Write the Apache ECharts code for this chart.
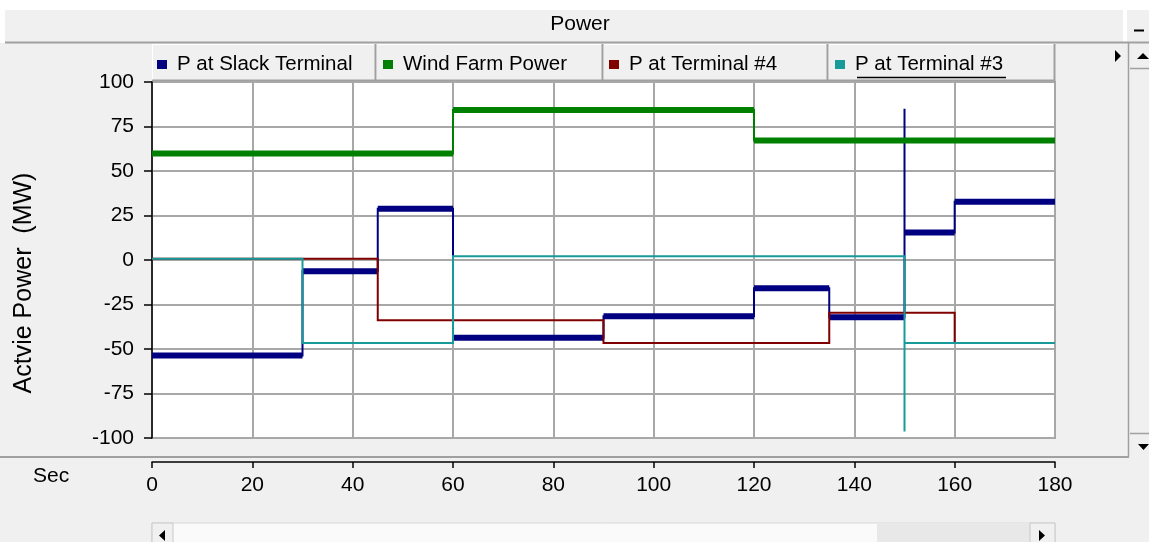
<!DOCTYPE html>
<html><head><meta charset="utf-8">
<script src="https://cdn.jsdelivr.net/npm/echarts@6/dist/echarts.min.js"></script>
<style>html,body{margin:0;padding:0;background:#f0f0f0;overflow:hidden}#c{width:1149px;height:542px;}</style>
</head><body><div id="c"></div>
<script>
// ---------- data ----------
const seriesNames = ['P at Slack Terminal', 'Wind Farm Power', 'P at Terminal #4', 'P at Terminal #3'];
const seriesColors = ['#000080', '#008000', '#800000', '#189a9a'];

const slackTimes = [0, 30, 45, 60, 90, 120, 135, 150, 160, 180];
const slackLevels = [-53.7, -6.3, 28.8, -43.7, -31.6, -15.9, -32.2, 15.5, 32.7];
const slackTransients = [[150, 85]];

const windTimes = [0, 60, 120, 180];
const windLevels = [59.8, 84.3, 67.2];
const windTransients = [[120, 78]];

const term4Times = [0, 45, 90, 135, 160, 180];
const term4Levels = [0.7, -33.9, -46.6, -29.7, -46.6];
const term4Transients = [];

const term3Times = [0, 30, 60, 150, 180];
const term3Levels = [0.7, -46.6, 2.1, -46.6];
const term3Transients = [[150, -96.3]];

const xMin = 0, xMax = 180, xStep = 20;
const yMin = -100, yMax = 100, yStep = 25;
const titleText = 'Power';
const yAxisTitle = 'Actvie Power  (MW)';
const xAxisTitle = 'Sec';

// ---------- helpers ----------
function stepLine(times, levels, transients) {
  const pts = [];
  for (let i = 0; i < levels.length; i++) {
    const t0 = times[i], t1 = times[i + 1], v = levels[i];
    if (i > 0) {
      const tr = transients.find(d => d[0] === t0);
      if (tr) pts.push([t0, tr[1]]);
    }
    pts.push([t0, v]);
    pts.push([t1, v]);
  }
  return pts;
}
function bandLine(times, levels) {
  const pts = [];
  for (let i = 0; i < levels.length; i++) {
    if (i > 0) pts.push('-');
    pts.push([times[i], levels[i]]);
    pts.push([times[i + 1], levels[i]]);
  }
  return pts;
}

const FONT = 'Liberation Sans, Arial, sans-serif';
const GRID = {left: 152, top: 82, width: 903, height: 356};
const legendLefts = [157, 383, 609, 835];
const cellEdges = [152, 376, 603, 828, 1055];

function lineSeries(name, color, data, width, z) {
  return {
    name, type: 'line', data, color, z,
    showSymbol: false, symbol: 'none', animation: false, silent: true,
    lineStyle: {color, width, cap: 'butt', join: 'miter'},
    connectNulls: false
  };
}

const series = [
  lineSeries(seriesNames[0], seriesColors[0], bandLine(slackTimes, slackLevels), 6, 2),
  lineSeries(seriesNames[0], seriesColors[0], stepLine(slackTimes, slackLevels, slackTransients), 2, 2),
  lineSeries(seriesNames[1], seriesColors[1], bandLine(windTimes, windLevels), 6, 2),
  lineSeries(seriesNames[1], seriesColors[1], stepLine(windTimes, windLevels, windTransients), 2, 2),
  lineSeries(seriesNames[2], seriesColors[2], stepLine(term4Times, term4Levels, term4Transients), 2, 3),
  lineSeries(seriesNames[3], seriesColors[3], stepLine(term3Times, term3Levels, term3Transients), 2, 4)
];

// ---------- window chrome (graphics) ----------
const gray = '#a0a0a0';
const chrome = [];
chrome.push({type: 'rect', shape: {x: 0, y: 0, width: 1149, height: 43}, style: {fill: '#ffffff'}, z: -10});
chrome.push({type: 'rect', shape: {x: 5, y: 10, width: 1118, height: 32}, style: {fill: '#f0f0f0'}, z: -9});
chrome.push({type: 'rect', shape: {x: 1127, y: 10, width: 22, height: 32}, style: {fill: '#f0f0f0'}, z: -9});
chrome.push({type: 'line', shape: {x1: 1134, y1: 30.5, x2: 1144, y2: 30.5}, style: {stroke: '#000', lineWidth: 2}});
chrome.push({type: 'line', shape: {x1: 5, y1: 42.5, x2: 1149, y2: 42.5}, style: {stroke: gray, lineWidth: 2}});
// right scrollbar
chrome.push({type: 'line', shape: {x1: 1128.5, y1: 43, x2: 1128.5, y2: 457}, style: {stroke: gray, lineWidth: 1.5}});
chrome.push({type: 'line', shape: {x1: 1130, y1: 68.5, x2: 1149, y2: 68.5}, style: {stroke: gray, lineWidth: 1.5}});
chrome.push({type: 'line', shape: {x1: 1130, y1: 433.5, x2: 1149, y2: 433.5}, style: {stroke: gray, lineWidth: 1.5}});
chrome.push({type: 'polygon', shape: {points: [[1137, 59], [1149, 59], [1143, 53]]}, style: {fill: '#000'}});
chrome.push({type: 'polygon', shape: {points: [[1138, 444], [1149, 444], [1143.5, 450]]}, style: {fill: '#000'}});
chrome.push({type: 'polygon', shape: {points: [[1115, 50], [1115, 62], [1121, 56]]}, style: {fill: '#000'}});
// separator under plot
chrome.push({type: 'line', shape: {x1: 0, y1: 457, x2: 1129, y2: 457}, style: {stroke: gray, lineWidth: 2}});
// bottom scrollbar
chrome.push({type: 'rect', shape: {x: 152, y: 523, width: 903, height: 20}, style: {fill: '#fafafa', stroke: '#d8d8d8', lineWidth: 1}, z: -5});
chrome.push({type: 'rect', shape: {x: 152, y: 523, width: 21, height: 20}, style: {fill: '#f0f0f0', stroke: '#c8c8c8', lineWidth: 1}, z: -4});
chrome.push({type: 'rect', shape: {x: 877, y: 524, width: 153, height: 19}, style: {fill: '#e8e8e8'}, z: -4});
chrome.push({type: 'rect', shape: {x: 1030, y: 523, width: 25, height: 20}, style: {fill: '#f0f0f0', stroke: '#c8c8c8', lineWidth: 1}, z: -4});
chrome.push({type: 'polygon', shape: {points: [[165, 530], [165, 541], [159, 535.5]]}, style: {fill: '#000'}});
chrome.push({type: 'polygon', shape: {points: [[1039, 530], [1039, 541], [1045, 535.5]]}, style: {fill: '#000'}});
// legend cells
for (let i = 0; i < 4; i++) {
  chrome.push({type: 'rect', shape: {x: cellEdges[i] + 0.5, y: 44.5, width: cellEdges[i + 1] - cellEdges[i] - 1, height: 36},
    style: {fill: '#f0f0f0', stroke: '#ffffff', lineWidth: 1}, z: -3});
  chrome.push({type: 'polyline', shape: {points: [[cellEdges[i + 1] - 0.5, 44], [cellEdges[i + 1] - 0.5, 80.5], [cellEdges[i], 80.5]]},
    style: {stroke: gray, lineWidth: 2, fill: null}, z: -2});
}
// underline of focused legend item
chrome.push({type: 'line', shape: {x1: 857, y1: 77.5, x2: 1006, y2: 77.5}, style: {stroke: '#000', lineWidth: 1.5}});
// axis titles
chrome.push({type: 'text', x: 24, y: 283, rotation: Math.PI / 2,
  style: {text: yAxisTitle, fontSize: 25, fontFamily: FONT, fill: '#000', align: 'center', verticalAlign: 'middle'}});
chrome.push({type: 'text', x: 33, y: 476,
  style: {text: xAxisTitle, fontSize: 21, fontFamily: FONT, fill: '#000', align: 'left', verticalAlign: 'middle'}});

const option = {
  animation: false,
  backgroundColor: '#f0f0f0',
  title: {text: titleText, left: 580, top: 14, textAlign: 'center', padding: 0,
    textStyle: {fontSize: 21, fontWeight: 'normal', color: '#000', fontFamily: FONT}},
  legend: seriesNames.map((n, i) => ({
    data: [n], left: legendLefts[i], top: 54, padding: 0, icon: 'rect', itemWidth: 10, itemHeight: 9,
    selectedMode: false,
    textStyle: {fontSize: 20.5, color: '#000', fontFamily: FONT, padding: [0, 0, 0, 5]}
  })),
  grid: Object.assign({show: true, backgroundColor: '#ffffff', borderColor: gray, borderWidth: 2}, GRID),
  xAxis: {
    type: 'value', min: xMin, max: xMax, interval: xStep, offset: 24,
    axisLine: {show: true, onZero: false, lineStyle: {color: '#000', width: 1.5}},
    axisTick: {show: true, length: 6, inside: false, lineStyle: {color: '#000', width: 1.5}},
    axisLabel: {fontSize: 21, color: '#000', fontFamily: FONT, margin: 13},
    splitLine: {show: true, lineStyle: {color: '#a8a8a8', width: 2}}
  },
  yAxis: {
    type: 'value', min: yMin, max: yMax, interval: yStep,
    axisLine: {show: true, onZero: false, lineStyle: {color: '#000', width: 1.5}},
    axisTick: {show: true, length: 8, inside: false, lineStyle: {color: '#000', width: 1.5}},
    axisLabel: {fontSize: 21, color: '#000', fontFamily: FONT, margin: 18},
    splitLine: {show: true, lineStyle: {color: '#a8a8a8', width: 2}}
  },
  graphic: chrome,
  series
};

const chart = echarts.init(document.getElementById('c'), null, {renderer: 'canvas'});
chart.setOption(option);
</script>
</body></html>
